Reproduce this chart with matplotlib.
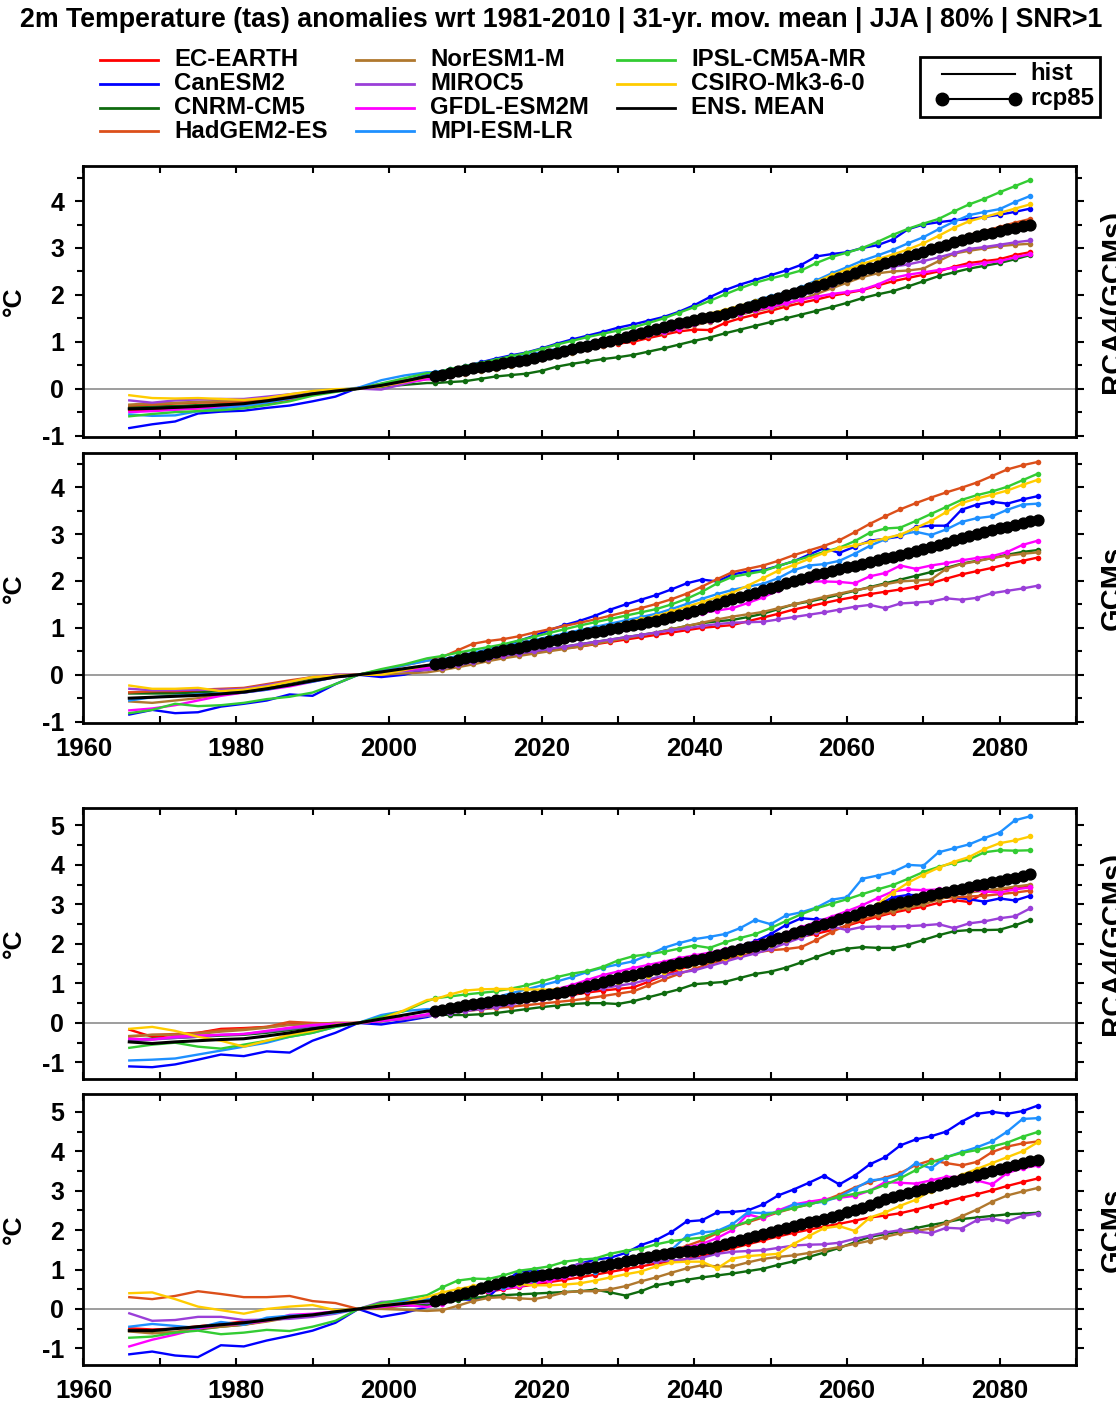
import numpy as np
import matplotlib
matplotlib.use('Agg')
import matplotlib.pyplot as plt
from matplotlib.patches import Rectangle
from matplotlib.ticker import MultipleLocator

plt.rcParams['font.family'] = ['Liberation Sans', 'DejaVu Sans']
plt.rcParams['font.weight'] = 'bold'
plt.rcParams['axes.unicode_minus'] = False

TITLE = "2m Temperature (tas) anomalies wrt 1981-2010 | 31-yr. mov. mean | JJA | 80% | SNR>1"
MODELS = ['EC-EARTH', 'CanESM2', 'CNRM-CM5', 'HadGEM2-ES', 'NorESM1-M', 'MIROC5',
          'GFDL-ESM2M', 'MPI-ESM-LR', 'IPSL-CM5A-MR', 'CSIRO-Mk3-6-0']
COLORS = ['#ff0000', '#0000ff', '#0f6b0f', '#dc4f1a', '#b0782e', '#9a3fd8',
          '#ff00ff', '#1e90ff', '#33cc33', '#ffcc00']
LEGEND_COLS = [['EC-EARTH', 'CanESM2', 'CNRM-CM5', 'HadGEM2-ES'],
               ['NorESM1-M', 'MIROC5', 'GFDL-ESM2M', 'MPI-ESM-LR'],
               ['IPSL-CM5A-MR', 'CSIRO-Mk3-6-0', 'ENS. MEAN']]

# years (values below are in hundredths of a degree C)
HIST_YEARS = list(range(1966, 2006, 3))
RCA4_RCP_YEARS = list(range(2006, 2085, 2))
GCM_RCP_YEARS = list(range(2007, 2086, 2))
RCA4_MEAN_YEARS = list(range(2006, 2085))
GCM_MEAN_YEARS = list(range(2006, 2086))

# ---------------- South East India, RCA4(GCMs) ----------------
SEI_RCA4_HIST = {
    'EC-EARTH': [-46, -46, -44, -42, -40, -37, -31, -24, -12, -5, 1, 10, 17, 25],
    'CanESM2': [-84, -76, -70, -53, -49, -47, -41, -36, -27, -17, 2, 5, 15, 30],
    'CNRM-CM5': [-39, -38, -37, -35, -33, -30, -25, -19, -12, -5, 0, 4, 8, 12],
    'HadGEM2-ES': [-36, -34, -32, -30, -29, -28, -22, -15, -10, -4, 0, 8, 17, 26],
    'NorESM1-M': [-34, -31, -30, -28, -26, -24, -19, -13, -8, -3, 0, 6, 13, 20],
    'MIROC5': [-25, -30, -25, -23, -22, -22, -17, -12, -7, -3, 0, -2, 10, 22],
    'GFDL-ESM2M': [-50, -48, -45, -42, -39, -36, -29, -21, -12, -5, 0, 6, 13, 20],
    'MPI-ESM-LR': [-55, -58, -57, -48, -42, -37, -30, -21, -10, -3, 2, 18, 28, 35],
    'IPSL-CM5A-MR': [-59, -54, -50, -48, -46, -42, -35, -27, -15, -7, 0, 11, 22, 33],
    'CSIRO-Mk3-6-0': [-14, -20, -21, -20, -22, -24, -20, -12, -5, -1, 0, 5, 14, 25],
    'ENS. MEAN': [-43, -42, -40, -38, -35, -32, -26, -19, -11, -5, 0, 7, 16, 26],
}
SEI_RCA4_RCP = {
    'EC-EARTH': [25, 32, 37, 42, 47, 52, 57, 64, 71, 78, 85, 91, 96, 100, 108, 115, 122, 126, 125, 140,
                 150, 158, 166, 175, 183, 190, 198, 204, 210, 220, 229, 236, 243, 250, 260, 268, 272, 276, 285, 291],
    'CanESM2': [30, 40, 48, 56, 64, 71, 77, 86, 96, 105, 113, 121, 130, 137, 145, 153, 164, 178, 195, 210,
                222, 232, 242, 252, 264, 282, 287, 291, 300, 306, 318, 340, 350, 355, 359, 362, 366, 371, 377, 384],
    'CNRM-CM5': [12, 14, 16, 21, 26, 29, 32, 38, 47, 53, 58, 63, 67, 72, 79, 86, 94, 102, 109, 118,
                 126, 134, 142, 150, 158, 166, 174, 183, 193, 201, 208, 218, 229, 240, 248, 256, 262, 268, 276, 285],
    'HadGEM2-ES': [26, 33, 40, 46, 51, 57, 63, 70, 78, 86, 93, 100, 107, 115, 124, 133, 141, 149, 155, 162,
                   171, 180, 190, 200, 210, 221, 232, 244, 256, 267, 278, 287, 296, 306, 318, 328, 336, 345, 354, 362],
    'NorESM1-M': [20, 26, 32, 37, 42, 49, 56, 63, 70, 77, 84, 91, 98, 105, 112, 119, 127, 135, 143, 150,
                  158, 165, 172, 180, 190, 202, 214, 226, 238, 246, 250, 252, 256, 272, 288, 294, 299, 304, 307, 309],
    'MIROC5': [22, 29, 35, 41, 46, 52, 58, 66, 73, 81, 89, 96, 106, 124, 128, 124, 132, 140, 146, 152,
               160, 168, 177, 188, 198, 210, 222, 234, 246, 256, 260, 265, 272, 280, 289, 298, 302, 307, 312, 316],
    'GFDL-ESM2M': [20, 27, 34, 41, 47, 53, 60, 67, 74, 80, 87, 94, 101, 108, 114, 120, 128, 137, 145, 152,
                   160, 167, 174, 182, 190, 196, 202, 206, 211, 222, 236, 243, 248, 253, 258, 263, 268, 272, 280, 287],
    'MPI-ESM-LR': [35, 41, 47, 53, 59, 65, 71, 78, 85, 91, 98, 105, 112, 119, 126, 134, 142, 150, 158, 166,
                   176, 188, 197, 205, 216, 231, 246, 259, 273, 284, 296, 310, 323, 340, 356, 370, 377, 383, 398, 411],
    'IPSL-CM5A-MR': [33, 42, 48, 55, 62, 69, 76, 85, 94, 102, 110, 117, 124, 131, 140, 150, 162, 174, 187, 201,
                     214, 226, 235, 243, 252, 268, 281, 290, 300, 313, 328, 341, 352, 362, 378, 393, 405, 419, 432, 445],
    'CSIRO-Mk3-6-0': [25, 30, 36, 42, 48, 53, 60, 67, 74, 81, 88, 95, 103, 111, 118, 127, 138, 151, 160, 168,
                      177, 186, 195, 204, 214, 228, 242, 254, 266, 276, 286, 297, 310, 326, 343, 357, 366, 375, 384, 393],
}
SEI_RCA4_MEAN = [26, 30, 33, 37, 40, 43, 46, 49, 51, 54, 56, 59, 62, 65, 69, 73, 77, 81, 85, 88,
                 92, 95, 99, 102, 106, 110, 114, 118, 123, 128, 132, 136, 140, 143, 147, 150, 153, 156, 160, 164,
                 169, 174, 179, 184, 189, 194, 199, 204, 209, 214, 219, 224, 229, 235, 241, 247, 252, 257, 262, 267,
                 272, 277, 282, 287, 292, 297, 302, 307, 312, 317, 321, 325, 329, 333, 337, 340, 343, 346, 349]

# ---------------- South East India, GCMs ----------------
SEI_GCM_HIST = {
    'EC-EARTH': [-38, -38, -36, -35, -33, -30, -22, -15, -8, -2, 0, 5, 10, 15],
    'CanESM2': [-85, -75, -82, -80, -68, -62, -55, -42, -45, -20, 0, -5, 0, 12],
    'CNRM-CM5': [-40, -40, -40, -38, -35, -32, -25, -18, -10, -2, 0, 8, 12, 15],
    'HadGEM2-ES': [-38, -35, -33, -32, -30, -28, -20, -12, -5, 0, 0, 10, 20, 30],
    'NorESM1-M': [-57, -60, -55, -50, -42, -38, -30, -22, -12, -5, 0, 0, 3, 5],
    'MIROC5': [-30, -33, -33, -32, -32, -30, -22, -15, -5, 0, 0, 5, 8, 10],
    'GFDL-ESM2M': [-76, -72, -65, -55, -45, -38, -32, -25, -15, -5, 0, 5, 10, 15],
    'MPI-ESM-LR': [-55, -48, -45, -42, -40, -38, -32, -22, -15, -5, 0, 10, 20, 30],
    'IPSL-CM5A-MR': [-82, -75, -62, -67, -65, -60, -52, -47, -38, -20, 0, 12, 22, 35],
    'CSIRO-Mk3-6-0': [-23, -30, -30, -28, -35, -32, -25, -15, -5, -2, 0, 0, 10, 20],
    'ENS. MEAN': [-50, -48, -46, -44, -41, -37, -30, -22, -13, -5, 0, 6, 13, 20],
}
SEI_GCM_RCP = {
    'EC-EARTH': [18, 23, 29, 35, 40, 44, 48, 52, 56, 60, 65, 70, 75, 80, 85, 90, 95, 100, 103, 106,
                 114, 122, 130, 139, 146, 153, 160, 166, 172, 177, 182, 188, 195, 205, 214, 221, 228, 236, 243, 250],
    'CanESM2': [28, 35, 44, 54, 63, 72, 83, 95, 106, 115, 126, 139, 150, 160, 170, 182, 195, 203, 199, 214,
                220, 223, 232, 242, 256, 270, 260, 273, 286, 290, 295, 315, 318, 318, 352, 363, 369, 365, 374, 381],
    'CNRM-CM5': [18, 23, 29, 35, 40, 45, 50, 55, 60, 65, 70, 75, 80, 85, 90, 97, 104, 110, 114, 117,
                 123, 130, 140, 150, 156, 163, 171, 179, 187, 195, 203, 211, 219, 228, 237, 243, 249, 256, 262, 266],
    'HadGEM2-ES': [38, 52, 66, 72, 76, 82, 90, 97, 104, 111, 118, 126, 134, 142, 151, 161, 173, 188, 204, 219,
                   226, 233, 243, 255, 265, 275, 287, 304, 322, 338, 353, 366, 378, 389, 399, 410, 424, 438, 447, 454],
    'NorESM1-M': [10, 16, 22, 29, 35, 40, 45, 50, 55, 60, 66, 72, 78, 84, 90, 97, 104, 111, 118, 124,
                  129, 134, 142, 150, 158, 166, 173, 180, 186, 193, 199, 201, 203, 226, 236, 242, 249, 254, 258, 261],
    'MIROC5': [14, 20, 27, 34, 40, 45, 50, 55, 60, 65, 70, 75, 80, 85, 90, 95, 99, 104, 108, 111,
               112, 113, 118, 123, 128, 133, 139, 145, 149, 142, 152, 154, 156, 163, 160, 164, 174, 179, 184, 190],
    'GFDL-ESM2M': [18, 25, 31, 38, 45, 52, 59, 66, 73, 80, 86, 92, 98, 104, 110, 117, 124, 132, 137, 142,
                   153, 165, 180, 196, 199, 199, 198, 195, 210, 217, 233, 226, 233, 238, 244, 249, 253, 262, 277, 286],
    'MPI-ESM-LR': [33, 40, 47, 54, 60, 67, 74, 81, 88, 95, 102, 109, 116, 123, 130, 140, 151, 162, 172, 181,
                   188, 194, 206, 223, 233, 236, 243, 258, 275, 289, 299, 305, 298, 310, 326, 334, 338, 352, 363, 365],
    'IPSL-CM5A-MR': [40, 47, 53, 59, 65, 73, 81, 89, 97, 105, 112, 119, 126, 133, 140, 150, 162, 177, 195, 209,
                     215, 221, 232, 242, 252, 262, 271, 285, 303, 312, 314, 328, 343, 358, 373, 383, 391, 401, 415, 429],
    'CSIRO-Mk3-6-0': [24, 31, 39, 47, 55, 62, 69, 76, 83, 90, 97, 104, 111, 118, 125, 135, 145, 155, 165, 175,
                      190, 206, 222, 234, 247, 260, 270, 276, 283, 291, 299, 313, 328, 347, 366, 376, 384, 393, 405, 416],
}
SEI_GCM_MEAN = [22, 25, 28, 31, 35, 38, 41, 45, 48, 52, 55, 58, 62, 65, 68, 71, 75, 78, 82, 85,
                88, 91, 94, 97, 100, 103, 106, 109, 112, 115, 119, 123, 127, 131, 135, 140, 146, 151, 157, 162,
                166, 171, 175, 180, 185, 190, 195, 200, 205, 209, 214, 218, 222, 226, 229, 233, 237, 241, 245, 249,
                252, 256, 260, 264, 268, 272, 277, 282, 287, 292, 296, 300, 304, 308, 312, 316, 320, 324, 327, 330]

# ---------------- Central India, RCA4(GCMs) ----------------
CLI_RCA4_HIST = {
    'EC-EARTH': [-17, -35, -30, -25, -15, -13, -10, -4, -2, 0, 0, 8, 12, 18],
    'CanESM2': [-110, -112, -105, -93, -80, -84, -72, -75, -45, -25, 0, -4, 5, 15],
    'CNRM-CM5': [-42, -40, -38, -35, -32, -30, -25, -18, -10, -5, 0, 5, 12, 20],
    'HadGEM2-ES': [-35, -30, -28, -25, -18, -15, -10, 3, 0, -2, 0, 5, 12, 20],
    'NorESM1-M': [-33, -30, -30, -28, -22, -18, -12, -5, -3, 0, 0, 5, 10, 18],
    'MIROC5': [-45, -42, -38, -35, -30, -28, -22, -15, -8, -3, 0, 5, 10, 18],
    'GFDL-ESM2M': [-40, -42, -35, -32, -30, -28, -20, -12, -5, -2, 0, 5, 12, 22],
    'MPI-ESM-LR': [-95, -93, -90, -80, -70, -60, -50, -35, -25, -10, 0, 20, 30, 35],
    'IPSL-CM5A-MR': [-63, -55, -50, -60, -65, -55, -45, -35, -25, -10, 0, 15, 30, 55],
    'CSIRO-Mk3-6-0': [-15, -10, -20, -35, -45, -60, -45, -30, -20, -5, 0, 10, 32, 58],
    'ENS. MEAN': [-48, -52, -48, -45, -42, -40, -33, -25, -15, -7, 0, 10, 20, 30],
}
CLI_RCA4_RCP = {
    'EC-EARTH': [20, 28, 35, 40, 45, 50, 55, 60, 65, 71, 77, 82, 86, 90, 104, 120, 135, 148, 160, 172,
                 182, 191, 200, 209, 218, 226, 235, 246, 258, 269, 279, 287, 294, 304, 311, 306, 330, 338, 341, 345],
    'CanESM2': [20, 27, 34, 42, 50, 60, 70, 68, 80, 89, 96, 103, 109, 114, 127, 140, 147, 153, 163, 178,
                194, 207, 225, 248, 265, 262, 260, 270, 283, 298, 318, 324, 323, 325, 318, 313, 307, 315, 310, 322],
    'CNRM-CM5': [22, 20, 20, 22, 25, 30, 35, 40, 44, 48, 50, 50, 48, 55, 65, 75, 85, 98, 101, 104,
                 114, 124, 130, 140, 153, 167, 180, 188, 192, 190, 190, 198, 210, 222, 232, 235, 235, 236, 247, 261],
    'HadGEM2-ES': [25, 27, 30, 34, 38, 41, 45, 49, 53, 57, 62, 68, 74, 80, 95, 110, 124, 137, 150, 160,
                   170, 178, 184, 187, 192, 210, 230, 248, 263, 272, 282, 294, 307, 316, 318, 320, 322, 326, 330, 335],
    'NorESM1-M': [20, 28, 35, 40, 45, 53, 60, 66, 72, 79, 90, 99, 107, 115, 130, 145, 158, 167, 174, 180,
                  188, 196, 205, 214, 224, 234, 244, 258, 272, 279, 285, 292, 300, 312, 324, 330, 335, 340, 345, 350],
    'MIROC5': [20, 25, 30, 35, 40, 47, 55, 61, 67, 73, 81, 88, 94, 100, 110, 120, 127, 133, 144, 155,
               166, 176, 187, 202, 216, 230, 244, 235, 243, 244, 244, 245, 247, 250, 240, 252, 257, 265, 270, 290],
    'GFDL-ESM2M': [30, 35, 40, 47, 55, 62, 70, 78, 86, 96, 109, 121, 130, 139, 147, 155, 164, 171, 178, 186,
                   195, 204, 214, 228, 242, 256, 269, 283, 298, 316, 333, 338, 336, 338, 336, 337, 333, 330, 338, 343],
    'MPI-ESM-LR': [35, 42, 50, 57, 65, 75, 85, 95, 105, 116, 129, 140, 148, 156, 172, 190, 202, 212, 218, 225,
                   240, 261, 250, 272, 280, 292, 312, 318, 365, 373, 382, 400, 398, 432, 442, 452, 468, 482, 513, 523],
    'IPSL-CM5A-MR': [62, 67, 72, 76, 80, 87, 95, 105, 116, 125, 131, 142, 158, 169, 174, 180, 188, 196, 190, 204,
                     215, 225, 240, 258, 275, 290, 302, 313, 326, 338, 349, 365, 382, 395, 405, 414, 432, 437, 436, 437],
    'CSIRO-Mk3-6-0': [60, 72, 82, 85, 86, 86, 85, 84, 85, 88, 92, 98, 104, 110, 120, 130, 140, 150, 156, 165,
                      175, 186, 197, 210, 222, 235, 248, 262, 275, 300, 330, 355, 375, 393, 408, 420, 440, 455, 462, 472],
}
CLI_RCA4_MEAN = [30, 34, 38, 41, 45, 48, 51, 54, 57, 59, 62, 64, 66, 68, 70, 73, 75, 78, 83, 88,
                 93, 98, 103, 108, 113, 118, 122, 127, 132, 137, 142, 146, 151, 155, 159, 162, 167, 172, 177, 181,
                 186, 191, 196, 201, 207, 214, 220, 227, 233, 239, 245, 251, 256, 262, 268, 274, 280, 285, 290, 295,
                 300, 305, 309, 314, 319, 324, 328, 332, 336, 340, 344, 348, 352, 356, 360, 364, 368, 372, 376]

# ---------------- Central India, GCMs ----------------
CLI_GCM_HIST = {
    'EC-EARTH': [-49, -52, -50, -44, -38, -32, -27, -22, -16, -9, 0, 8, 15, 20],
    'CanESM2': [-115, -108, -118, -122, -92, -95, -80, -68, -55, -35, 0, -20, -10, 5],
    'CNRM-CM5': [-55, -60, -60, -52, -45, -40, -30, -22, -15, -8, 0, 5, 8, 10],
    'HadGEM2-ES': [30, 25, 33, 45, 38, 30, 30, 33, 20, 15, 0, 2, 10, 20],
    'NorESM1-M': [-57, -62, -58, -50, -45, -40, -32, -22, -15, -8, 0, 0, -2, -5],
    'MIROC5': [-11, -30, -28, -20, -20, -28, -27, -25, -20, -12, 0, 18, 20, 15],
    'GFDL-ESM2M': [-95, -78, -65, -50, -40, -38, -30, -15, -12, -6, 0, 5, 10, 5],
    'MPI-ESM-LR': [-45, -38, -43, -48, -33, -40, -22, -17, -15, -10, 0, 12, 20, 25],
    'IPSL-CM5A-MR': [-73, -70, -60, -55, -64, -60, -53, -56, -45, -30, 0, 15, 25, 35],
    'CSIRO-Mk3-6-0': [40, 42, 25, 6, -3, -12, 0, 6, 10, -3, 0, 10, 15, 30],
    'ENS. MEAN': [-55, -55, -50, -45, -40, -35, -28, -20, -15, -7, 0, 8, 14, 20],
}
CLI_GCM_RCP = {
    'EC-EARTH': [23, 30, 37, 44, 50, 56, 62, 68, 74, 80, 87, 94, 101, 108, 115, 121, 127, 134, 144, 154,
                 164, 174, 184, 193, 201, 209, 216, 224, 232, 237, 243, 252, 262, 272, 282, 291, 301, 312, 322, 331],
    'CanESM2': [22, 25, 23, 30, 65, 95, 98, 94, 102, 115, 125, 130, 142, 162, 175, 195, 222, 225, 245, 246,
                250, 265, 288, 303, 320, 338, 316, 338, 367, 385, 415, 430, 438, 450, 475, 495, 500, 495, 502, 516],
    'CNRM-CM5': [14, 22, 28, 32, 35, 37, 39, 41, 43, 45, 49, 42, 34, 45, 60, 67, 74, 80, 85, 90,
                 96, 102, 112, 121, 132, 143, 155, 169, 183, 190, 197, 205, 213, 220, 228, 232, 236, 240, 242, 244],
    'HadGEM2-ES': [24, 32, 40, 48, 55, 62, 69, 76, 83, 90, 98, 107, 116, 126, 135, 147, 160, 174, 192, 208,
                   220, 232, 245, 256, 265, 275, 290, 308, 322, 333, 345, 365, 377, 370, 364, 373, 398, 412, 420, 425],
    'NorESM1-M': [-3, 8, 20, 28, 30, 27, 25, 32, 42, 45, 45, 50, 58, 70, 80, 92, 103, 111, 108, 108,
                  118, 127, 132, 136, 142, 150, 157, 165, 173, 183, 192, 198, 204, 218, 235, 252, 272, 288, 298, 307],
    'MIROC5': [22, 30, 40, 58, 62, 58, 65, 78, 100, 115, 116, 115, 116, 118, 120, 123, 126, 130, 140, 145,
               147, 149, 155, 161, 163, 164, 168, 178, 186, 194, 200, 197, 192, 206, 204, 225, 229, 222, 236, 242],
    'GFDL-ESM2M': [12, 28, 38, 45, 52, 57, 65, 72, 80, 90, 100, 110, 120, 130, 140, 148, 156, 165, 180, 200,
                   240, 230, 250, 265, 272, 278, 282, 287, 300, 322, 320, 318, 326, 335, 335, 326, 316, 345, 357, 364],
    'MPI-ESM-LR': [25, 33, 40, 47, 55, 63, 72, 80, 86, 90, 95, 108, 120, 128, 134, 150, 185, 194, 198, 215,
                   245, 243, 245, 265, 267, 272, 285, 305, 326, 330, 340, 370, 357, 385, 398, 410, 425, 450, 482, 484],
    'IPSL-CM5A-MR': [55, 72, 77, 76, 85, 97, 102, 108, 120, 125, 128, 140, 148, 153, 164, 172, 177, 181, 195, 208,
                     222, 236, 247, 256, 265, 275, 285, 292, 300, 315, 332, 352, 372, 385, 396, 403, 412, 422, 437, 449],
    'CSIRO-Mk3-6-0': [42, 50, 58, 62, 65, 63, 60, 60, 62, 65, 72, 80, 88, 95, 108, 118, 120, 120, 103, 128,
                      134, 137, 140, 165, 185, 205, 210, 198, 232, 245, 262, 277, 300, 320, 340, 355, 370, 385, 400, 423],
}
CLI_GCM_MEAN = [21, 26, 31, 36, 40, 46, 52, 58, 64, 68, 72, 76, 80, 83, 86, 89, 92, 95, 98, 100,
                103, 106, 109, 113, 117, 121, 125, 129, 133, 137, 140, 142, 144, 146, 148, 151, 155, 160, 165, 170,
                175, 180, 185, 190, 195, 200, 205, 210, 215, 220, 224, 229, 234, 239, 245, 251, 257, 264, 271, 278,
                285, 290, 295, 300, 305, 310, 315, 320, 325, 330, 335, 340, 345, 350, 355, 360, 365, 370, 375, 379]

PANELS = [
    dict(hist=SEI_RCA4_HIST, rcp=SEI_RCA4_RCP, mean=SEI_RCA4_MEAN, ry=RCA4_RCP_YEARS, my=RCA4_MEAN_YEARS,
         ylim=(-1.03, 4.75), rect=[0.0748, 0.6890, 0.8894, 0.1929], xlab=False, right='RCA4(GCMs)',
         region='South East India (SEI)'),
    dict(hist=SEI_GCM_HIST, rcp=SEI_GCM_RCP, mean=SEI_GCM_MEAN, ry=GCM_RCP_YEARS, my=GCM_MEAN_YEARS,
         ylim=(-1.03, 4.74), rect=[0.0748, 0.4854, 0.8894, 0.1925], xlab=True, right='GCMs', region=None),
    dict(hist=CLI_RCA4_HIST, rcp=CLI_RCA4_RCP, mean=CLI_RCA4_MEAN, ry=RCA4_RCP_YEARS, my=RCA4_MEAN_YEARS,
         ylim=(-1.42, 5.44), rect=[0.0748, 0.2320, 0.8894, 0.1929], xlab=False, right='RCA4(GCMs)',
         region='Central India (CLI)'),
    dict(hist=CLI_GCM_HIST, rcp=CLI_GCM_RCP, mean=CLI_GCM_MEAN, ry=GCM_RCP_YEARS, my=GCM_MEAN_YEARS,
         ylim=(-1.42, 5.44), rect=[0.0748, 0.0285, 0.8894, 0.1925], xlab=True, right='GCMs', region=None),
]

W, H = 1116, 1405
fig = plt.figure(figsize=(W / 100, H / 100), dpi=100)

# overlay in pixel coordinates for figure-level annotations
ov = fig.add_axes([0, 0, 1, 1])
ov.set_xlim(0, W)
ov.set_ylim(H, 0)
ov.axis('off')

ov.text(561, 20, TITLE, ha='center', va='center', fontsize=19.3, fontweight='bold')

color_of = dict(zip(MODELS, COLORS))
color_of['ENS. MEAN'] = 'black'
col_x = [100, 356, 617]
row_y = [60, 84, 108, 131]
for cx, names in zip(col_x, LEGEND_COLS):
    for ry, name in zip(row_y, names):
        ov.plot([cx, cx + 58], [ry, ry], color=color_of[name], lw=2)
        ov.text(cx + 74, ry, name, ha='left', va='center', fontsize=17.3, fontweight='bold')

ov.add_patch(Rectangle((920, 57), 180, 60, fill=False, lw=2, ec='black'))
ov.plot([942, 1015], [74, 74], color='black', lw=1.5)
ov.text(1030, 73, 'hist', ha='left', va='center', fontsize=17.3, fontweight='bold')
ov.plot([942, 1015], [99, 99], color='black', lw=1.5, marker='o', ms=9)
ov.text(1030, 98, 'rcp85', ha='left', va='center', fontsize=17.3, fontweight='bold')

hx = np.array(HIST_YEARS)
for p in PANELS:
    ax = fig.add_axes(p['rect'])
    ax.axhline(0, color='#8c8c8c', lw=1.2, zorder=1)
    for name, col in zip(MODELS, COLORS):
        h = np.array(p['hist'][name]) / 100.0
        r = np.array(p['rcp'][name]) / 100.0
        x = np.concatenate([hx, p['ry']])
        y = np.concatenate([h, r])
        ax.plot(x, y, color=col, lw=1.7, marker='o', ms=4.0, mec=col, mew=0,
                markevery=list(range(len(hx), len(x))), zorder=2)
    h = np.array(p['hist']['ENS. MEAN']) / 100.0
    m = np.array(p['mean']) / 100.0
    x = np.concatenate([hx, p['my']])
    y = np.concatenate([h, m])
    ax.plot(x, y, color='black', lw=2.2, marker='o', ms=7.8,
            markevery=list(range(len(hx), len(x))), zorder=3)

    ax.set_xlim(1960, 2090)
    ax.set_ylim(*p['ylim'])
    ax.xaxis.set_major_locator(MultipleLocator(20))
    ax.xaxis.set_minor_locator(MultipleLocator(10))
    ax.yaxis.set_major_locator(MultipleLocator(1))
    ax.yaxis.set_minor_locator(MultipleLocator(0.5))
    ax.tick_params(axis='x', which='both', direction='in', top=True, bottom=True,
                   length=5, width=1.5, labelsize=18.5, pad=10, labelbottom=p['xlab'])
    ax.tick_params(axis='y', which='major', direction='out', left=True, right=True,
                   length=6, width=1.5, labelsize=18, pad=8)
    ax.tick_params(axis='y', which='minor', direction='out', left=True, right=True,
                   length=4, width=1.5)
    for s in ax.spines.values():
        s.set_linewidth(2)
    for lab in ax.get_xticklabels() + ax.get_yticklabels():
        lab.set_fontweight('bold')

    top_px = (1 - p['rect'][1] - p['rect'][3]) * H
    bot_px = (1 - p['rect'][1]) * H
    cy = 0.5 * (top_px + bot_px)
    ov.text(1099, cy, p['right'], rotation=90, ha='left', va='center', fontsize=21, fontweight='bold')
    ov.text(14, cy, '°C', rotation=90, ha='center', va='center', fontsize=19, fontweight='bold')
    if p['region']:
        ov.text(119, top_px + 33, p['region'], ha='left', va='center', fontsize=21, fontweight='bold')

fig.savefig('out.png', dpi=100)
